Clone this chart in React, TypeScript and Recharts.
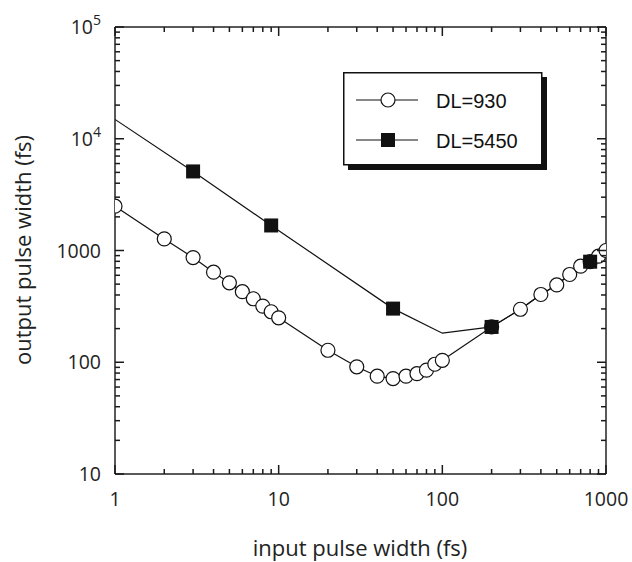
import React from 'react';
import { ComposedChart, Line, Scatter, XAxis, YAxis } from 'recharts';

// DL=930 series (circles, line through all points)
const dl930X = [1, 2, 3, 4, 5, 6, 7, 8, 9, 10, 20, 30, 40, 50, 60, 70, 80, 90, 100, 200, 300, 400, 500, 600, 700, 800, 900, 1000];
const dl930Y = [2490, 1270, 865, 640, 514, 428, 370, 318, 283, 250, 128, 91, 75, 71.5, 75, 79, 85, 96, 104, 207, 298, 404, 492, 610, 724, 794, 889, 1000];

// DL=5450 curve and its markers
const dl5450LineX = [1, 3, 9, 50, 100, 200, 300, 400, 500, 600, 700, 800, 900, 1000];
const dl5450LineY = [14900, 5100, 1675, 302, 182, 207, 298, 404, 492, 610, 724, 794, 889, 1000];
const dl5450MarkX = [3, 9, 50, 200, 800];
const dl5450MarkY = [5100, 1675, 302, 207, 794];

const xMajor = [1, 10, 100, 1000];
const xTicks = [1, 2, 3, 4, 5, 6, 7, 8, 9, 10, 20, 30, 40, 50, 60, 70, 80, 90, 100, 200, 300, 400, 500, 600, 700, 800, 900, 1000];
const yMajor = [10, 100, 1000, 10000, 100000];
const yMajorLabels = [['10', ''], ['100', ''], ['1000', ''], ['10', '4'], ['10', '5']];
const yTicks = [10, 20, 30, 40, 50, 60, 70, 80, 90, 100, 200, 300, 400, 500, 600, 700, 800, 900, 1000, 2000, 3000, 4000, 5000, 6000, 7000, 8000, 9000, 10000, 20000, 30000, 40000, 50000, 60000, 70000, 80000, 90000, 100000];

const seriesNames = ['DL=930', 'DL=5450'];
const axisTitles = ['input pulse width (fs)', 'output pulse width (fs)'];

const zip = (xs: number[], ys: number[]) => xs.map((x, i) => ({ x, y: ys[i] }));
const d930 = zip(dl930X, dl930Y);
const d5450Line = zip(dl5450LineX, dl5450LineY);
const d5450Mark = zip(dl5450MarkX, dl5450MarkY);

const AX = '#222';
const TICK_FONT = '"Open Sans", sans-serif';
const TICK_COLOR = '#1a1a1a';
const TW = 1.5;
const MAJ = 9;
const MIN = 5;

const isMajor = (v: number, list: number[]) => list.some((m) => Math.abs(m - v) < 1e-6 * m);

const BottomTick = (props: any) => {
  const x = Number(props.x);
  const y = Number(props.y);
  const major = isMajor(props.payload.value, xMajor);
  return (
    <g>
      <path d={`M${x},${y}V${y - (major ? MAJ : MIN)}`} stroke={TICK_COLOR} strokeWidth={TW} fill="none" />
      {major && (
        <text x={x} y={y + 32} textAnchor="middle" fontFamily={TICK_FONT} fontSize={19.5} fill={AX}>
          {props.payload.value}
        </text>
      )}
    </g>
  );
};

const TopTick = (props: any) => {
  const x = Number(props.x);
  const y = Number(props.y);
  const major = isMajor(props.payload.value, xMajor);
  return (
    <g>
      <path d={`M${x},${y}V${y + (major ? MAJ : MIN)}`} stroke={TICK_COLOR} strokeWidth={TW} fill="none" />
    </g>
  );
};

const LeftTick = (props: any) => {
  const x = Number(props.x);
  const y = Number(props.y);
  const idx = yMajor.findIndex((m) => Math.abs(m - props.payload.value) < 1e-6 * m);
  const major = idx >= 0;
  return (
    <g>
      <path d={`M${x},${y}H${x + (major ? MAJ : MIN)}`} stroke={TICK_COLOR} strokeWidth={TW} fill="none" />
      {major && (
        <text x={x - 14} y={y + 7} textAnchor="end" fontFamily={TICK_FONT} fontSize={19.5} fill={AX}>
          {yMajorLabels[idx][0]}
          {yMajorLabels[idx][1] && (
            <tspan dy={-9} fontSize={14}>
              {yMajorLabels[idx][1]}
            </tspan>
          )}
        </text>
      )}
    </g>
  );
};

const RightTick = (props: any) => {
  const x = Number(props.x);
  const y = Number(props.y);
  const major = isMajor(props.payload.value, yMajor);
  return (
    <g>
      <path d={`M${x},${y}H${x - (major ? MAJ : MIN)}`} stroke={TICK_COLOR} strokeWidth={TW} fill="none" />
    </g>
  );
};

const CircleShape = (props: any) => (
  <circle cx={props.cx} cy={props.cy} r={7} fill="#fff" stroke="#111" strokeWidth={1.2} />
);

const SquareShape = (props: any) => (
  <rect x={props.cx - 7} y={props.cy - 7} width={14} height={14} fill="#111" />
);

const LEGEND_FONT = '"Liberation Sans", Arial, sans-serif';

export default function App() {
  return (
    <div style={{ position: 'absolute', left: 0, top: 0, width: 632, height: 562, background: '#fff' }}>
      <svg width={632} height={562} style={{ position: 'absolute', left: 0, top: 0 }}>
        <g transform="translate(343 72)">
          <rect x={5} y={5} width={199} height={93} fill="#111" />
          <rect x={0.75} y={0.75} width={198} height={92} fill="#fff" stroke="#111" strokeWidth={1.5} />
          <line x1={13} x2={75} y1={28} y2={28} stroke="#111" strokeWidth={1.2} />
          <circle cx={45} cy={28} r={7} fill="#fff" stroke="#111" strokeWidth={1.2} />
          <text x={93} y={35.5} fontFamily={LEGEND_FONT} fontSize={20} fill="#111">
            {seriesNames[0]}
          </text>
          <line x1={13} x2={75} y1={68} y2={68} stroke="#111" strokeWidth={1.2} />
          <rect x={38} y={61} width={14} height={14} fill="#111" />
          <text x={93} y={75.5} fontFamily={LEGEND_FONT} fontSize={20} fill="#111">
            {seriesNames[1]}
          </text>
        </g>
        <text x={360} y={556} textAnchor="middle" fontFamily={TICK_FONT} fontSize={22} fill={AX}>
          {axisTitles[0]}
        </text>
        <text
          x={31}
          y={250}
          textAnchor="middle"
          fontFamily={TICK_FONT}
          fontSize={22}
          fill={AX}
          transform="rotate(-90 31 250)"
        >
          {axisTitles[1]}
        </text>
      </svg>
      <div style={{ position: 'absolute', left: 0, top: 0, width: 632, height: 562 }}>
        <ComposedChart width={632} height={562} margin={{ top: 22, right: 21, left: 55, bottom: 28 }}>
          <XAxis
            xAxisId="b"
            dataKey="x"
            type="number"
            scale="log"
            domain={[1, 1000]}
            allowDataOverflow
            ticks={xTicks}
            interval={0}
            height={60}
            tickSize={0}
            tickMargin={0}
            tickLine={false}
            tick={<BottomTick />}
            axisLine={{ stroke: AX, strokeWidth: 1.5 }}
          />
          <XAxis
            xAxisId="t"
            orientation="top"
            dataKey="x"
            type="number"
            scale="log"
            domain={[1, 1000]}
            allowDataOverflow
            ticks={xTicks}
            interval={0}
            height={5}
            tickSize={0}
            tickMargin={0}
            tickLine={false}
            tick={<TopTick />}
            axisLine={{ stroke: AX, strokeWidth: 1.5 }}
          />
          <YAxis
            yAxisId="l"
            dataKey="y"
            type="number"
            scale="log"
            domain={[10, 100000]}
            allowDataOverflow
            ticks={yTicks}
            interval={0}
            width={60}
            tickSize={0}
            tickMargin={0}
            tickLine={false}
            tick={<LeftTick />}
            axisLine={{ stroke: AX, strokeWidth: 1.5 }}
          />
          <YAxis
            yAxisId="r"
            orientation="right"
            dataKey="y"
            type="number"
            scale="log"
            domain={[10, 100000]}
            allowDataOverflow
            ticks={yTicks}
            interval={0}
            width={5}
            tickSize={0}
            tickMargin={0}
            tickLine={false}
            tick={<RightTick />}
            axisLine={{ stroke: AX, strokeWidth: 1.5 }}
          />
          <Line
            xAxisId="b"
            yAxisId="l"
            data={d930}
            dataKey="y"
            type="linear"
            stroke="#111"
            strokeWidth={1.2}
            dot={false}
            activeDot={false}
            isAnimationActive={false}
            legendType="none"
          />
          <Line
            xAxisId="b"
            yAxisId="l"
            data={d5450Line}
            dataKey="y"
            type="linear"
            stroke="#111"
            strokeWidth={1.2}
            dot={false}
            activeDot={false}
            isAnimationActive={false}
            legendType="none"
          />
          <Scatter
            xAxisId="b"
            yAxisId="l"
            data={d930}
            dataKey="y"
            shape={<CircleShape />}
            isAnimationActive={false}
            legendType="none"
          />
          <Scatter
            xAxisId="b"
            yAxisId="l"
            data={d5450Mark}
            dataKey="y"
            shape={<SquareShape />}
            isAnimationActive={false}
            legendType="none"
          />
        </ComposedChart>
      </div>
    </div>
  );
}
